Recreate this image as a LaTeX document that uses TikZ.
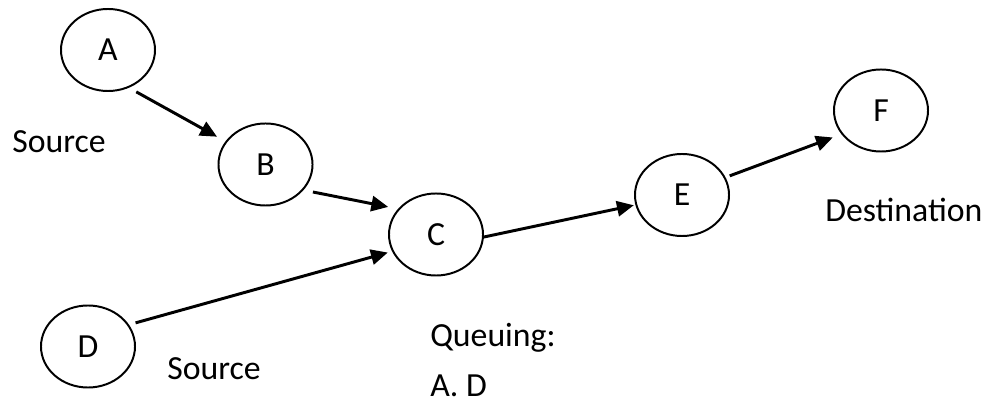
\documentclass[tikz,border=0pt]{standalone}
\usepackage{fontspec}
\setmainfont{Carlito}
\usetikzlibrary{shapes.geometric,arrows.meta}

\begin{document}
\begin{tikzpicture}[x=0.025cm,y=-0.025cm,
  font=\fontsize{24}{28}\selectfont,
  station/.style={draw,line width=1.4pt,ellipse,inner sep=0pt,
    minimum width=2.35cm,minimum height=2.05cm},
  link/.style={line width=2.1pt,-{Triangle[length=0.42cm,width=0.38cm]}},
  lbl/.style={anchor=base west,inner sep=0pt}]
\useasboundingbox (0,0) rectangle (986,398);
% the stations
\node[station] (A) at (108,50) {A};
\node[station] (B) at (265.5,164.5) {B};
\node[station] (C) at (436,234.5) {C};
\node[station] (D) at (88,346.5) {D};
\node[station] (E) at (682,195) {E};
\node[station] (F) at (881,110.5) {F};
% links between them
\draw[link,shorten <=0.21cm,shorten >=0.24cm] (A.-61.5) -- (B.150.3);
\draw[link,shorten <=0.24cm,shorten >=0.25cm] (B.-34) -- (C.146.3);
\draw[link,shorten <=0.17cm,shorten >=0.11cm] (D.28.7) -- (C.201.6);
\draw[link,shorten >=0.04cm] (C.-3) -- (E.192.7);
\draw[link,shorten <=0.11cm,shorten >=0.23cm] (E.22.8) -- (F.211.1);
% labels
\node[lbl] (srcA) at (12,153) {Source};
\node[lbl] (srcD) at (167,380) {Source};
\node[lbl] (dest) at (825,222) {Destination};
\node[lbl] (queue) at (430,347) {Queuing:};
\node[lbl] (queued) at (430,397) {A. D};
\end{tikzpicture}
\end{document}
